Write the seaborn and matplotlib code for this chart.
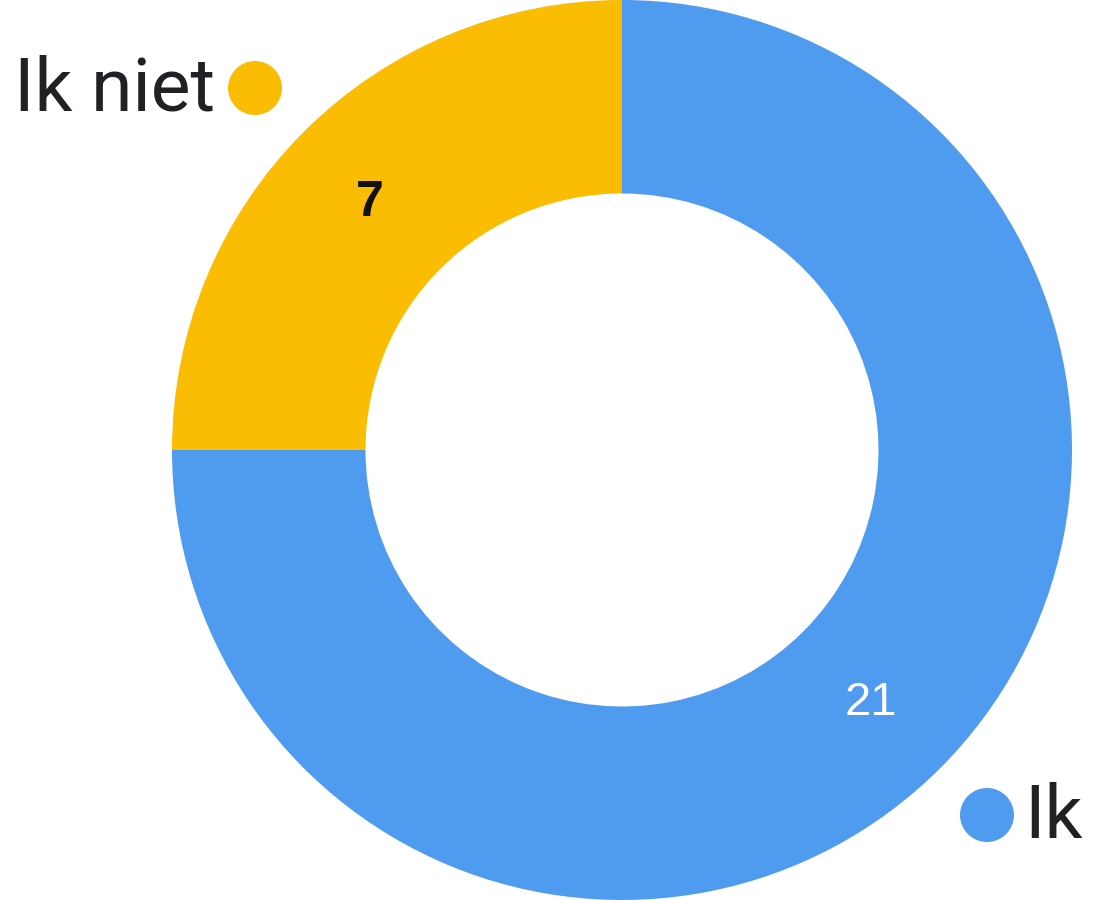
import matplotlib
matplotlib.use("Agg")
import matplotlib.pyplot as plt
import seaborn as sns
from matplotlib.patches import Circle

sns.set_theme(style="white")
plt.rcParams['font.family'] = ['Roboto', 'DejaVu Sans']

categories = ["Ik", "Ik niet"]
values = [21, 7]
colors = ["#4F9BF0", "#FBBC04"]
label_colors = ["white", "#111111"]
label_weights = ["normal", "bold"]
label_sizes = [34, 36]

W, H = 1093, 900
fig = plt.figure(figsize=(W / 100, H / 100), dpi=100)
ax = fig.add_axes([0, 0, 1, 1])

cx, cy, r = 622, 450, 450
hole = 0.57
wedges, _ = ax.pie(values, colors=colors, startangle=90, counterclock=False,
                   center=(cx, cy), radius=r, frame=True,
                   wedgeprops=dict(width=r * (1 - hole), linewidth=0))
ax.set_xlim(0, W)
ax.set_ylim(0, H)
ax.set_aspect("auto")
ax.axis("off")

# value labels placed inside each ring segment
label_pos = [(871, 900 - 703), (370, 900 - 203)]
for (x, y), v, c, w, s in zip(label_pos, values, label_colors, label_weights, label_sizes):
    ax.text(x, y, str(v), ha="center", va="center", fontsize=s,
            color=c, fontweight=w, family=["Liberation Sans", "DejaVu Sans"])

# outside legend-style labels with dots
ax.add_patch(Circle((255, 900 - 88), 27, color=colors[1], lw=0))
ax.text(215, 900 - 90, categories[1], ha="right", va="center",
        fontsize=54, color="#202124")
ax.add_patch(Circle((987, 900 - 815), 27, color=colors[0], lw=0))
ax.text(1024, 900 - 817, categories[0], ha="left", va="center",
        fontsize=54, color="#202124")

fig.savefig("out.png", dpi=100)
